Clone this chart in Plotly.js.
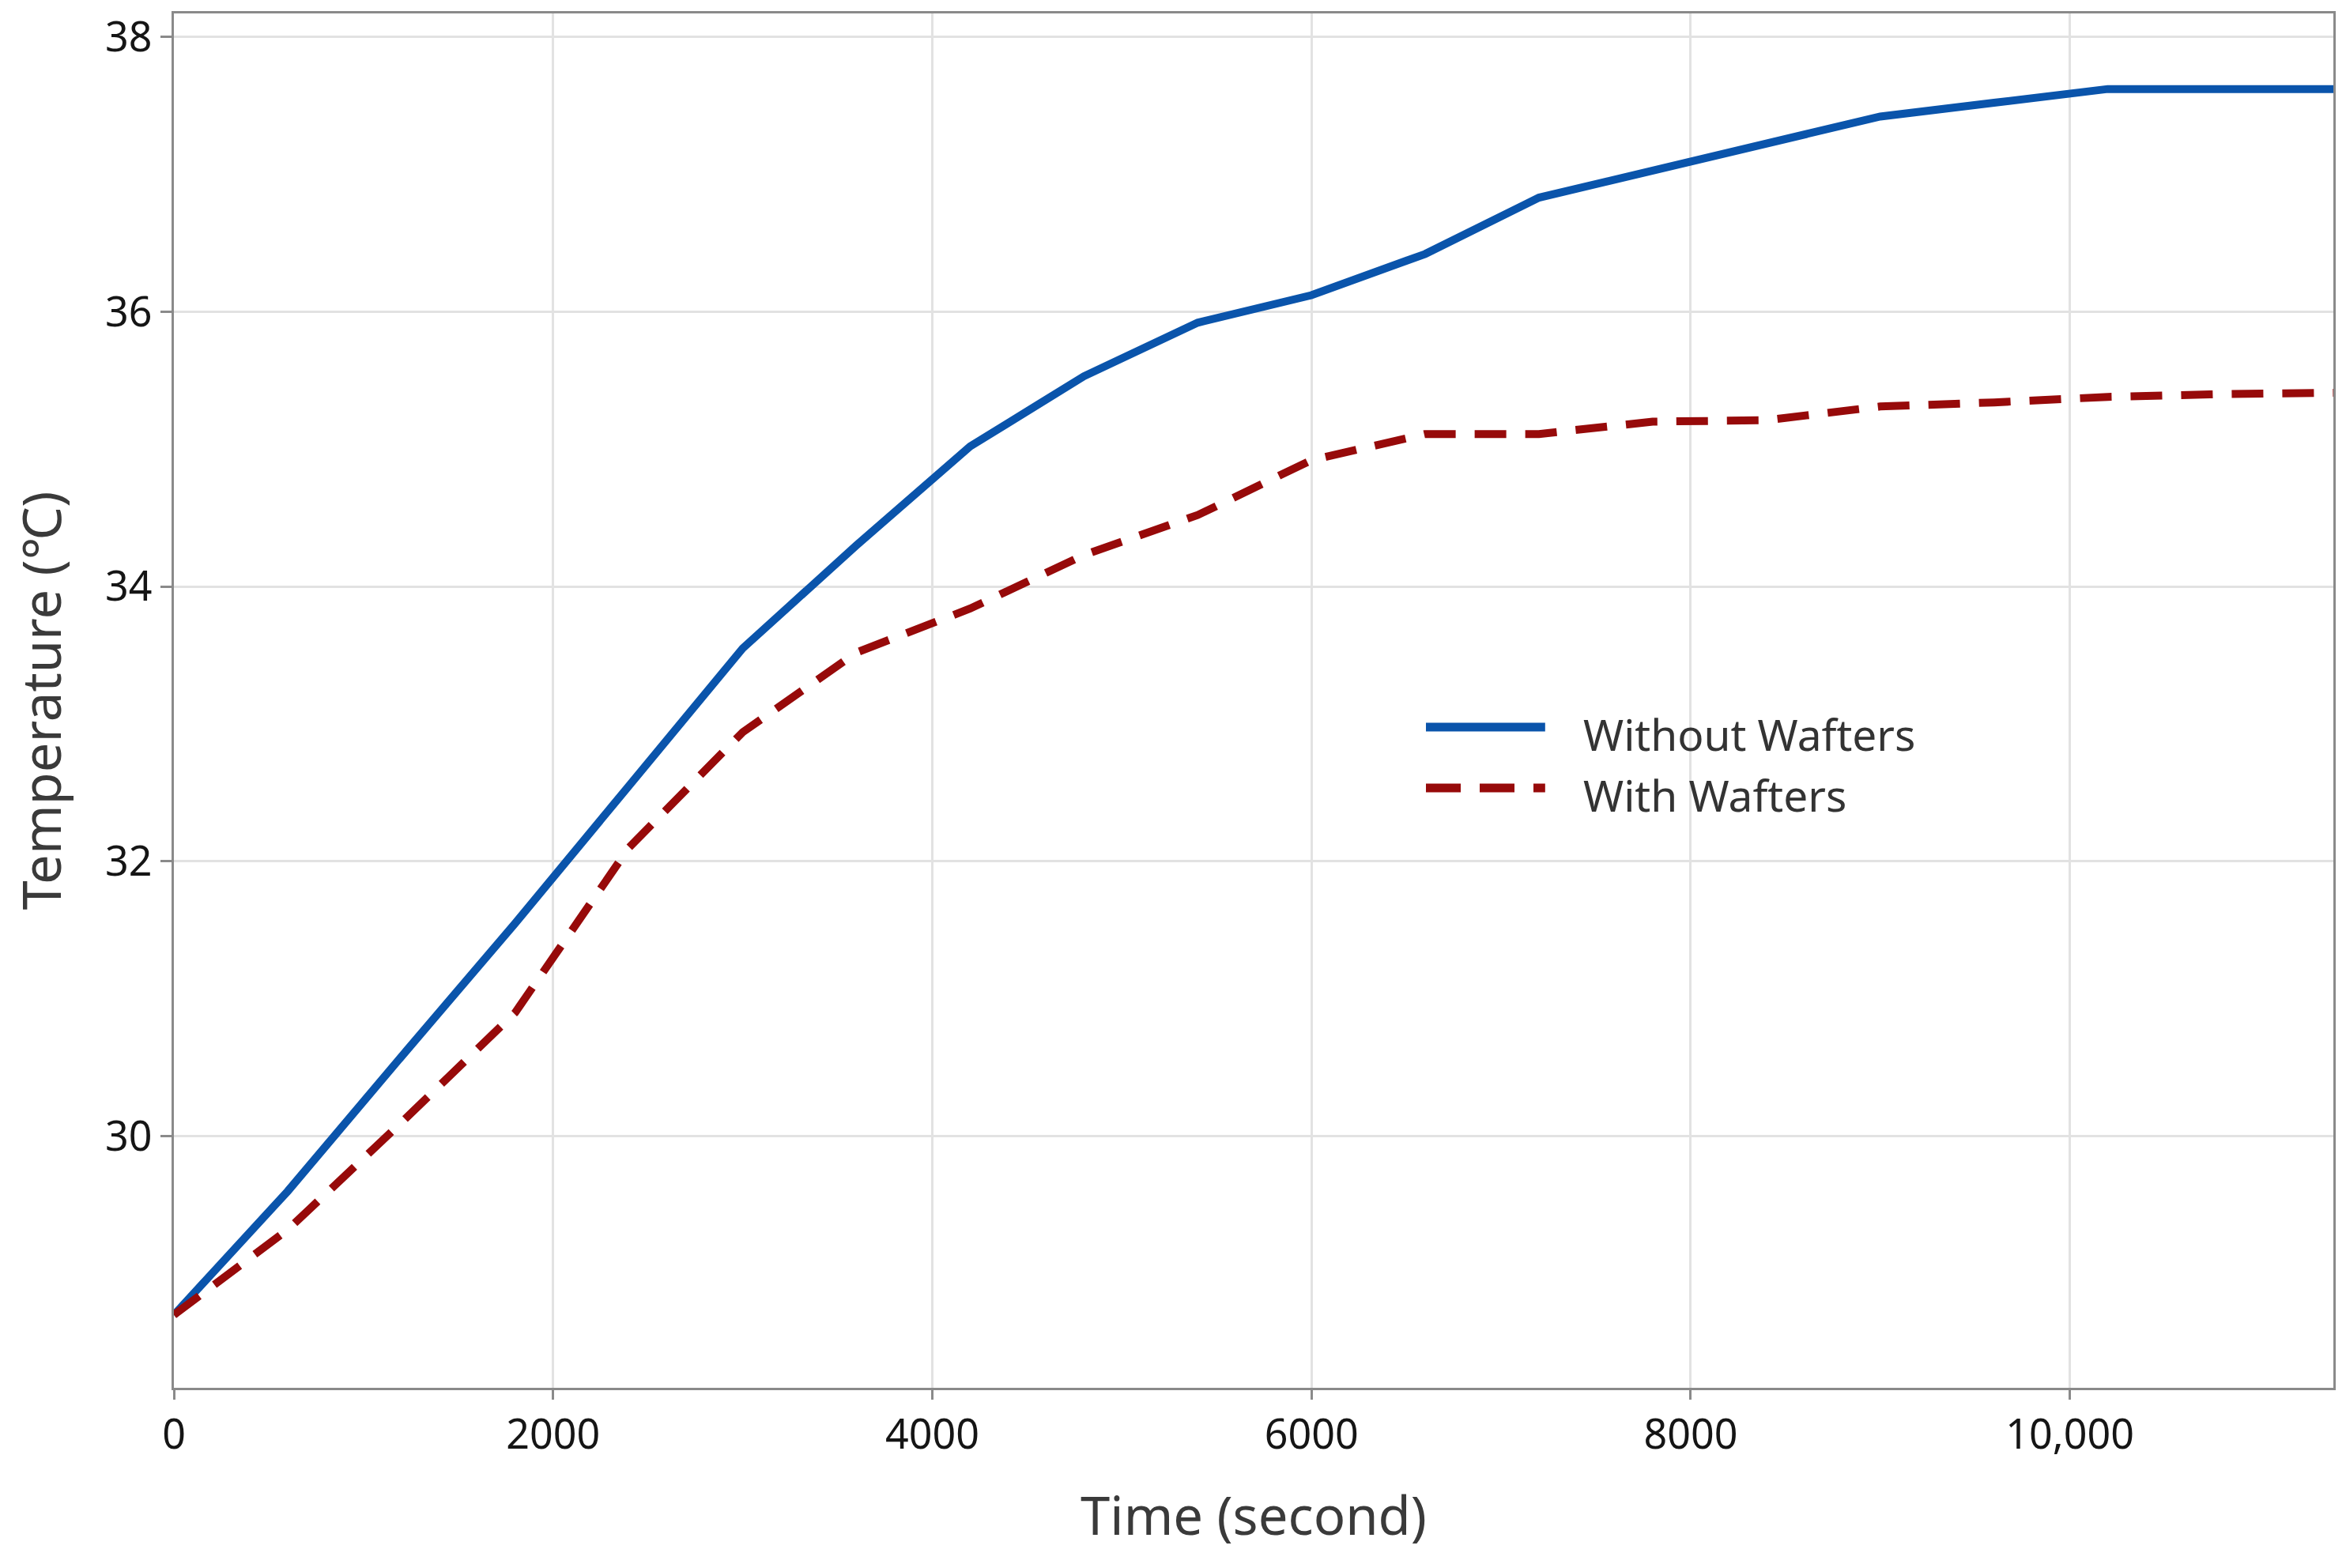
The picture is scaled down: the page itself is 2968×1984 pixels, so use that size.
<!DOCTYPE html>
<html>
<head>
<meta charset="utf-8">
<script src="https://cdn.plot.ly/plotly-3.0.1.min.js"></script>
<style>html,body{margin:0;padding:0;background:#fff;}#chart{width:2968px;height:1984px;}</style>
</head>
<body>
<div id="chart"></div>
<script>
// Time in seconds
const timeSec = [0, 600, 1200, 1800, 2400, 3000, 3600, 4200, 4800, 5400, 6000, 6600, 7200, 7800, 8400, 9000, 9600, 10200, 10800, 11400];
// Temperature (°C) without wafters
const withoutWafters = [28.7, 29.6, 30.58, 31.55, 32.55, 33.55, 34.3, 35.02, 35.53, 35.92, 36.12, 36.42, 36.83, 37.03, 37.23, 37.42, 37.52, 37.62, 37.62, 37.62];
// Temperature (°C) with wafters
const withWafters = [28.7, 29.32, 30.1, 30.9, 32.1, 32.94, 33.52, 33.84, 34.23, 34.52, 34.92, 35.11, 35.11, 35.2, 35.21, 35.31, 35.34, 35.38, 35.4, 35.41];

const xTickVals = [0, 2000, 4000, 6000, 8000, 10000];
const xTickText = ['0', '2000', '4000', '6000', '8000', '10,000'];
const yTickVals = [30, 32, 34, 36, 38];
const seriesNames = ['Without Wafters', 'With Wafters'];
const seriesColors = ['#0a54ab', '#970a0a'];

const FONT = 'Noto Sans, Open Sans, DejaVu Sans, sans-serif';
const dashPattern = '40px,24px';

const traces = [
  {x: timeSec, y: withoutWafters, type: 'scatter', mode: 'lines', name: seriesNames[0],
   line: {color: seriesColors[0], width: 10}, showlegend: false},
  {x: timeSec, y: withWafters, type: 'scatter', mode: 'lines', name: seriesNames[1],
   line: {color: seriesColors[1], width: 10, dash: dashPattern}, showlegend: false}
];

// custom legend (paper coordinates)
const legX0 = 0.5798, legX1 = 0.635, legTextX = 0.6519;
const legY = [0.4807, 0.4365];
const shapes = [0, 1].map(i => ({
  type: 'line', xref: 'paper', yref: 'paper', x0: legX0, x1: legX1, y0: legY[i], y1: legY[i],
  line: {color: seriesColors[i], width: 11, dash: i === 1 ? '44px,24px' : 'solid'}
}));
const annotations = [0, 1].map(i => ({
  xref: 'paper', yref: 'paper', x: legTextX, y: legY[i] - 0.005, xanchor: 'left', yanchor: 'middle',
  text: seriesNames[i], showarrow: false, font: {family: FONT, size: 55, color: '#333333'}
}));

const layout = {
  width: 2968, height: 1984,
  margin: {l: 220, r: 16, t: 17, b: 228},
  paper_bgcolor: '#ffffff', plot_bgcolor: '#ffffff',
  font: {family: FONT, color: '#1a1a1a'},
  showlegend: false,
  xaxis: {
    range: [0, 11390], tickvals: xTickVals, ticktext: xTickText,
    showgrid: true, gridcolor: '#e2e2e2', gridwidth: 3,
    showline: true, mirror: true, linecolor: '#8a8a8a', linewidth: 3,
    ticks: 'outside', ticklen: 12, tickwidth: 3, tickcolor: '#8a8a8a',
    tickfont: {family: FONT, size: 52, color: '#151515'},
    zeroline: false,
    title: {text: 'Time (second)', font: {family: FONT, size: 67, color: '#3a3a3a'}, standoff: 48}
  },
  yaxis: {
    range: [28.17, 38.17], tickvals: yTickVals,
    showgrid: true, gridcolor: '#e2e2e2', gridwidth: 3,
    showline: true, mirror: true, linecolor: '#8a8a8a', linewidth: 3,
    ticks: 'outside', ticklen: 14, tickwidth: 3, tickcolor: '#8a8a8a',
    tickfont: {family: FONT, size: 52, color: '#151515'},
    zeroline: false,
    title: {text: 'Temperature (℃)', font: {family: FONT, size: 67, color: '#3a3a3a'}, standoff: 34}
  },
  shapes: shapes,
  annotations: annotations
};

Plotly.newPlot('chart', traces, layout, {staticPlot: true, displayModeBar: false});
</script>
</body>
</html>
